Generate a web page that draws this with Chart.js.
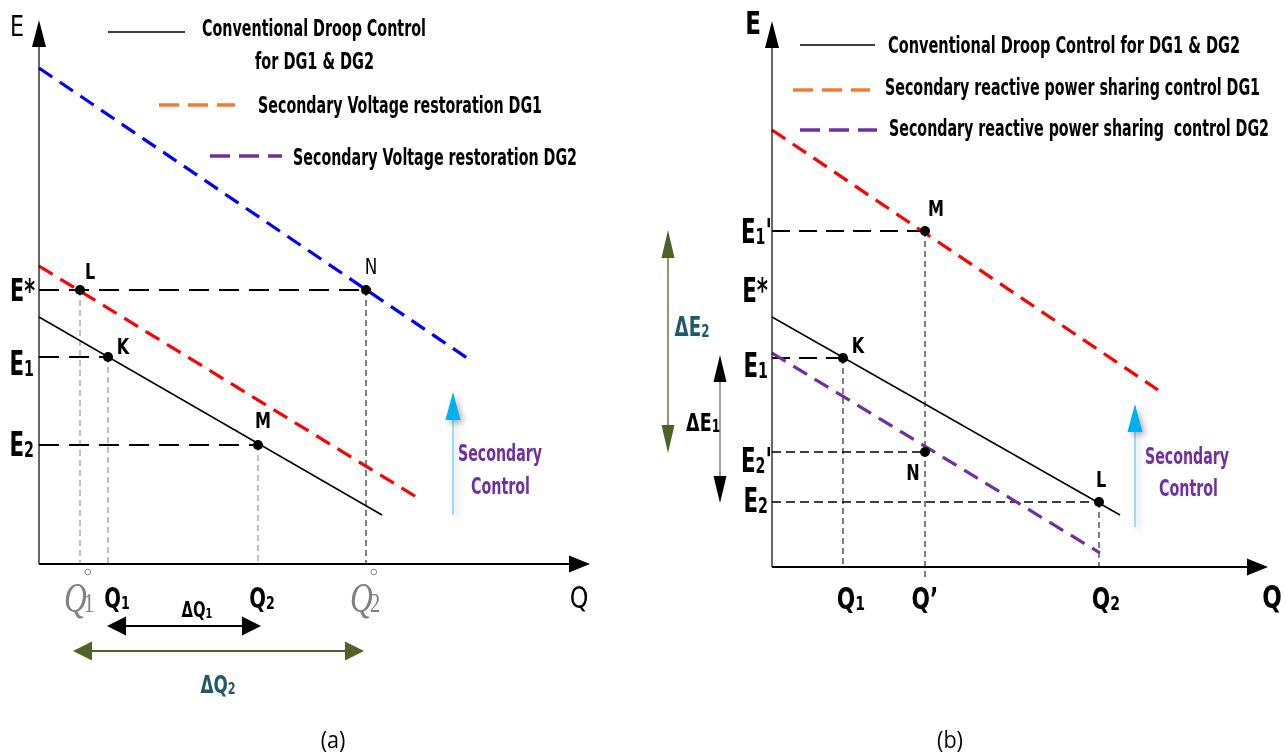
<!DOCTYPE html>
<html>
<head>
<meta charset="utf-8">
<script src="https://cdn.jsdelivr.net/npm/chart.js@4.4.0/dist/chart.umd.min.js"></script>
<style>
  body { margin: 0; background: #fff; width: 1286px; height: 755px; overflow: hidden; position: relative; }
  canvas { position: absolute; top: 0; }
  #chartA { left: 0; }
  #chartB { left: 640px; }
</style>
</head>
<body>
<canvas id="chartA" width="640" height="755"></canvas>
<canvas id="chartB" width="646" height="755"></canvas>
<script>
// ---- (a) secondary voltage restoration ----
const droopA = [{ x: 0, y: 24.7 }, { x: 34.3, y: 4.9 }];
const restoreDG1A = [{ x: 0, y: 29.8 }, { x: 37.9, y: 6.6 }];
const restoreDG2A = [{ x: 0, y: 49.6 }, { x: 43.1, y: 20.4 }];
const pointNamesA = ["L", "K", "M", "N"];
const pointQA = [4.1, 6.9, 21.9, 32.7];
const pointEA = [27.4, 20.7, 11.9, 27.4];

// ---- (b) secondary reactive power sharing ----
const droopB = [{ x: 0, y: 25.0 }, { x: 34.8, y: 5.2 }];
const sharingDG1B = [{ x: 0, y: 43.7 }, { x: 38.6, y: 17.7 }];
const sharingDG2B = [{ x: 0, y: 21.4 }, { x: 32.8, y: 1.4 }];
const pointNamesB = ["M", "K", "N", "L"];
const pointQB = [15.3, 7.1, 15.3, 32.7];
const pointEB = [33.6, 20.9, 11.5, 6.5];
const eStarB = 27.9;

const FF = "'Liberation Sans Narrow','DejaVu Sans Condensed',sans-serif";
const SERIF = "'Liberation Serif','DejaVu Serif',serif";

const ptsA = pointQA.map((q, i) => ({ x: q, y: pointEA[i] }));
const ptsB = pointQB.map((q, i) => ({ x: q, y: pointEB[i] }));

function line(data, color, width, dash, order) {
  return { data, showLine: true, borderColor: color, borderWidth: width, borderDash: dash || [],
    pointRadius: 0, fill: false, tension: 0, clip: false, order };
}
function dots(data) {
  return { data, showLine: false, pointRadius: 5, pointBackgroundColor: "#000", pointBorderWidth: 0, order: 0, clip: false };
}
const hLine = p => [{ x: 0, y: p.y }, { x: p.x, y: p.y }];
const vLine = (p, y0) => [{ x: p.x, y: p.y }, { x: p.x, y: y0 || 0 }];

// text helpers
function txt(ctx, s, x, y, font, color, sx) {
  sx = sx || 1;
  ctx.save();
  ctx.font = font; ctx.fillStyle = color; ctx.textAlign = "center"; ctx.textBaseline = "middle";
  ctx.translate(x, y); ctx.scale(sx, 1); ctx.fillText(s, 0, 0);
  ctx.restore();
}
function fit(ctx, s, left, cy, width, font, color) {
  ctx.save();
  ctx.font = font; ctx.fillStyle = color; ctx.textAlign = "left"; ctx.textBaseline = "middle";
  const w = ctx.measureText(s).width;
  ctx.translate(left, cy); ctx.scale(width / w, 1); ctx.fillText(s, 0, 0);
  ctx.restore();
}
// main text + subscript (+ optional suffix), y = baseline, squeezed by sx
function subText(ctx, main, sub, suffix, x, y, size, color, align, sx) {
  sx = sx || 0.78;
  const big = `bold ${size}px ${FF}`, small = `bold ${Math.round(size * 0.66)}px ${FF}`;
  ctx.font = big;
  const w1 = ctx.measureText(main).width, w3 = suffix ? ctx.measureText(suffix).width : 0;
  ctx.font = small;
  const w2 = ctx.measureText(sub).width;
  const tot = (w1 + w2 + w3) * sx;
  const x0 = align === "center" ? x - tot / 2 : align === "right" ? x - tot : x;
  ctx.save();
  ctx.translate(x0, y); ctx.scale(sx, 1);
  ctx.fillStyle = color; ctx.textAlign = "left"; ctx.textBaseline = "alphabetic";
  ctx.font = big; ctx.fillText(main, 0, 0);
  ctx.font = small; ctx.fillText(sub, w1, size * 0.04);
  if (suffix) { ctx.font = big; ctx.fillText(suffix, w1 + w2, 0); }
  ctx.restore();
}
function head(ctx, tx, ty, dx, dy, len, hw, color) {
  const bx = tx - dx * len, by = ty - dy * len;
  ctx.beginPath();
  ctx.moveTo(tx, ty);
  ctx.lineTo(bx - dy * hw, by + dx * hw);
  ctx.lineTo(bx + dy * hw, by - dx * hw);
  ctx.closePath();
  ctx.fillStyle = color; ctx.fill();
}
function segment(ctx, x1, y1, x2, y2, color, w, dash) {
  ctx.save();
  ctx.beginPath(); ctx.setLineDash(dash || []);
  ctx.moveTo(x1, y1); ctx.lineTo(x2, y2);
  ctx.strokeStyle = color; ctx.lineWidth = w; ctx.stroke();
  ctx.restore();
}
function axes(ctx, ox, oy, top, right) {
  segment(ctx, ox, oy, ox, top + 20, "#000", 1.2);
  head(ctx, ox, top, 0, -1, 27, 7, "#000");
  segment(ctx, ox, oy, right - 15, oy, "#000", 2.2);
  head(ctx, right, oy, 1, 0, 21, 8.5, "#000");
}
function cyanArrow(ctx, x, tip, bottom) {
  ctx.save();
  ctx.shadowColor = "rgba(0,0,0,0.3)"; ctx.shadowBlur = 6; ctx.shadowOffsetX = 3; ctx.shadowOffsetY = 3;
  segment(ctx, x, bottom, x, tip + 20, "#6fcdf2", 1.3);
  head(ctx, x, tip, 0, -1, 28, 7.5, "#00b0f0");
  ctx.restore();
}
// grey italic Q with ring and subscript (no-load reactive power)
function qCirc(ctx, sub, x, baseline) {
  ctx.fillStyle = "#808080"; ctx.textAlign = "left"; ctx.textBaseline = "alphabetic";
  ctx.font = `italic 42px ${SERIF}`;
  const wq = ctx.measureText("Q").width;
  ctx.save(); ctx.translate(x - 16, baseline); ctx.scale(0.75, 1); ctx.fillText("Q", 0, 0); ctx.restore();
  const sx = x - 16 + wq * 0.75 - 3;
  ctx.font = `28px ${SERIF}`;
  ctx.save(); ctx.translate(sx, baseline); ctx.scale(0.75, 1); ctx.fillText(sub, 0, 0); ctx.restore();
  ctx.beginPath(); ctx.arc(sx + 4, baseline - 40, 2.8, 0, Math.PI * 2);
  ctx.strokeStyle = "#808080"; ctx.lineWidth = 1; ctx.stroke();
}

function decorateA(chart) {
  const { ctx, scales: { x, y }, chartArea } = chart;
  const X = v => x.getPixelForValue(v), Y = v => y.getPixelForValue(v);
  const ox = X(0), oy = Y(0);
  axes(ctx, ox, oy, chartArea.top, chartArea.right);
  const [L, K, M, N] = ptsA;

  txt(ctx, "E", 17, 28, `29px ${FF}`, "#000", 0.85);
  txt(ctx, "Q", 579, 600, `31px ${FF}`, "#000", 0.85);

  // legend
  segment(ctx, 108, 32, 185, 32, "#000", 1.5);
  fit(ctx, "Conventional Droop Control", 202, 30, 224, `bold 23px ${FF}`, "#000");
  fit(ctx, "for DG1 & DG2", 255, 63, 119, `bold 23px ${FF}`, "#000");
  segment(ctx, 159, 105, 235, 105, "#ed7d31", 3.5, [20, 9]);
  fit(ctx, "Secondary Voltage restoration DG1", 258, 107, 284, `bold 23px ${FF}`, "#000");
  segment(ctx, 210, 156, 282, 156, "#7030a0", 3.5, [20, 9]);
  fit(ctx, "Secondary Voltage restoration DG2", 293, 159, 284, `bold 23px ${FF}`, "#000");

  // E levels
  subText(ctx, "E*", "", "", ox - 4, Y(L.y) + 11, 32, "#000", "right", 0.72);
  subText(ctx, "E", "1", "", ox - 5, Y(K.y) + 18, 33, "#000", "right", 0.72);
  subText(ctx, "E", "2", "", ox - 5, Y(M.y) + 11, 33, "#000", "right", 0.72);

  // point names
  txt(ctx, "L", X(L.x) + 10, Y(L.y) - 16, `bold 21px ${FF}`, "#000", 0.85);
  txt(ctx, "K", X(K.x) + 15, Y(K.y) - 8, `bold 21px ${FF}`, "#000", 0.85);
  txt(ctx, "M", X(M.x) + 5, Y(M.y) - 22, `bold 21px ${FF}`, "#000", 0.85);
  txt(ctx, "N", X(N.x) + 5, Y(N.y) - 22, `22px ${FF}`, "#000", 0.85);

  // Q levels
  qCirc(ctx, "1", X(L.x), oy + 48);
  qCirc(ctx, "2", X(N.x), oy + 48);
  subText(ctx, "Q", "1", "", X(K.x) + 9, oy + 44, 28, "#000", "center");
  subText(ctx, "Q", "2", "", X(M.x) + 4, oy + 44, 28, "#000", "center");

  // delta Q arrows
  subText(ctx, "ΔQ", "1", "", X(K.x) + 89, oy + 53, 21, "#000", "center");
  segment(ctx, X(K.x) + 10, oy + 62, X(M.x) - 6, oy + 62, "#000", 1.8);
  head(ctx, X(K.x) - 1, oy + 62, -1, 0, 19, 9.5, "#000");
  head(ctx, X(M.x) + 3, oy + 62, 1, 0, 19, 9.5, "#000");
  segment(ctx, X(L.x) - 2, oy + 87, X(N.x) - 10, oy + 87, "#4f6228", 2);
  head(ctx, X(L.x) - 7, oy + 87, -1, 0, 19, 9.5, "#4f6228");
  head(ctx, X(N.x) - 2, oy + 87, 1, 0, 19, 9.5, "#4f6228");
  subText(ctx, "ΔQ", "2", "", X(K.x) + 110, oy + 129, 24, "#215968", "center");

  cyanArrow(ctx, 453, 392, 515);
  fit(ctx, "Secondary", 458, 455, 84, `bold 23px ${FF}`, "#7030a0");
  fit(ctx, "Control", 471, 488, 59, `bold 23px ${FF}`, "#7030a0");

  txt(ctx, "(a)", 333, 741, `24px 'Open Sans',${FF}`, "#000", 0.9);
}

function decorateB(chart) {
  const { ctx, scales: { x, y }, chartArea } = chart;
  const X = v => x.getPixelForValue(v), Y = v => y.getPixelForValue(v);
  const ox = X(0), oy = Y(0);
  axes(ctx, ox, oy, chartArea.top, chartArea.right);
  const [M, K, N, L] = ptsB;

  txt(ctx, "E", 113, 26, `bold 32px ${FF}`, "#000", 0.8);
  txt(ctx, "Q", 632, 600, `bold 32px ${FF}`, "#000", 0.8);

  // legend
  segment(ctx, 160, 45, 235, 45, "#000", 1.5);
  fit(ctx, "Conventional Droop Control for DG1 & DG2", 248, 47, 352, `bold 23px ${FF}`, "#000");
  segment(ctx, 153, 90, 230, 90, "#ed7d31", 3.5, [20, 9]);
  fit(ctx, "Secondary reactive power sharing control DG1", 245, 89, 375, `bold 23px ${FF}`, "#000");
  segment(ctx, 160, 130, 237, 130, "#7030a0", 3.5, [20, 9]);
  fit(ctx, "Secondary reactive power sharing  control DG2", 249, 130, 380, `bold 23px ${FF}`, "#000");

  // E levels
  subText(ctx, "E", "1", "'", ox, Y(M.y) + 12, 33, "#000", "right", 0.72);
  subText(ctx, "E*", "", "", ox - 4, Y(eStarB) + 14, 33, "#000", "right", 0.72);
  subText(ctx, "E", "1", "", ox - 4, Y(K.y) + 19, 33, "#000", "right", 0.72);
  subText(ctx, "E", "2", "'", ox, Y(N.y) + 20, 33, "#000", "right", 0.72);
  subText(ctx, "E", "2", "", ox - 4, Y(L.y) + 10, 33, "#000", "right", 0.72);

  // point names
  txt(ctx, "M", X(M.x) + 11, Y(M.y) - 20, `bold 21px ${FF}`, "#000", 0.85);
  txt(ctx, "K", X(K.x) + 15, Y(K.y) - 10, `bold 21px ${FF}`, "#000", 0.85);
  txt(ctx, "N", X(N.x) - 12, Y(N.y) + 23, `bold 21px ${FF}`, "#000", 0.85);
  txt(ctx, "L", X(L.x) + 2, Y(L.y) - 20, `bold 21px ${FF}`, "#000", 0.85);

  // Q levels
  subText(ctx, "Q", "1", "", X(K.x) + 8, oy + 42, 31, "#000", "center");
  subText(ctx, "Q", "", "\u2019", X(M.x), oy + 42, 31, "#000", "center");
  subText(ctx, "Q", "2", "", X(L.x) + 7, oy + 42, 31, "#000", "center");

  // delta E arrows
  const gx = 28, bx = 80;
  segment(ctx, gx, Y(M.y) + 20, gx, Y(N.y) - 20, "#4f6228", 1.3);
  head(ctx, gx, Y(M.y) - 1, 0, -1, 28, 6.5, "#4f6228");
  head(ctx, gx, Y(N.y) + 1, 0, 1, 28, 6.5, "#4f6228");
  subText(ctx, "ΔE", "2", "", 52, 336, 26, "#215968", "center");
  segment(ctx, bx, Y(K.y) + 20, bx, Y(L.y) - 20, "#808080", 1.5);
  head(ctx, bx, Y(K.y) - 3, 0, -1, 27, 6.5, "#000");
  head(ctx, bx, Y(L.y) + 1, 0, 1, 27, 6.5, "#000");
  subText(ctx, "ΔE", "1", "", 63, 431, 25, "#000", "center");

  cyanArrow(ctx, 495, 404, 527);
  fit(ctx, "Secondary", 505, 458, 84, `bold 23px ${FF}`, "#7030a0");
  fit(ctx, "Control", 519, 490, 59, `bold 23px ${FF}`, "#7030a0");

  txt(ctx, "(b)", 310, 741, `24px 'Open Sans',${FF}`, "#000", 0.9);
}

function makeChart(id, pad, xMax, yMax, datasets, decorate) {
  return new Chart(document.getElementById(id), {
    type: "scatter",
    data: { datasets },
    options: {
      responsive: false,
      animation: false,
      events: [],
      layout: { padding: pad },
      scales: {
        x: { type: "linear", min: 0, max: xMax, display: false },
        y: { type: "linear", min: 0, max: yMax, display: false },
      },
      plugins: { legend: { display: false }, tooltip: { enabled: false } },
    },
    plugins: [{ id: "decor", afterDatasetsDraw: (chart) => decorate(chart) }],
  });
}

const [aL, aK, aM, aN] = ptsA;
const chartA = makeChart("chartA", { left: 39, top: 20, right: 50, bottom: 191 }, 55.1, 54.4, [
  dots(ptsA),
  line(droopA, "#000", 1.5, [], 1),
  line(restoreDG1A, "#ff0000", 3.2, [16, 9], 1),
  line(restoreDG2A, "#0000ff", 3.2, [16, 9], 1),
  line([{ x: 0, y: aL.y }, { x: aN.x, y: aN.y }], "#000", 1.8, [20, 10], 2),
  line(hLine(aK), "#000", 1.8, [20, 10], 2),
  line(hLine(aM), "#000", 1.8, [20, 10], 2),
  line(vLine(aL), "#808080", 1, [6, 4], 3),
  line(vLine(aK), "#808080", 1, [6, 4], 3),
  line(vLine(aM), "#808080", 1, [6, 4], 3),
  line(vLine(aN), "#000", 1, [6, 4], 3),
], decorateA);

const [bM, bK, bN, bL] = ptsB;
const chartB = makeChart("chartB", { left: 132, top: 21, right: 18, bottom: 188 }, 49.6, 54.6, [
  dots(ptsB),
  line(droopB, "#000", 1.5, [], 1),
  line(sharingDG1B, "#ff0000", 3.2, [16, 9], 1),
  line(sharingDG2B, "#7030a0", 3.2, [16, 9], 1),
  line(hLine(bM), "#000", 1.8, [18, 9], 2),
  line(hLine(bK), "#000", 1.8, [18, 9], 2),
  line(hLine(bN), "#000", 1.5, [9, 5], 2),
  line(hLine(bL), "#000", 1.5, [9, 5], 2),
  line(vLine(bK), "#000", 1, [6, 4], 3),
  line(vLine(bM, -1.3), "#000", 1, [6, 4], 3),
  line(vLine(bL), "#000", 1, [6, 4], 3),
], decorateB);
</script>
</body>
</html>
